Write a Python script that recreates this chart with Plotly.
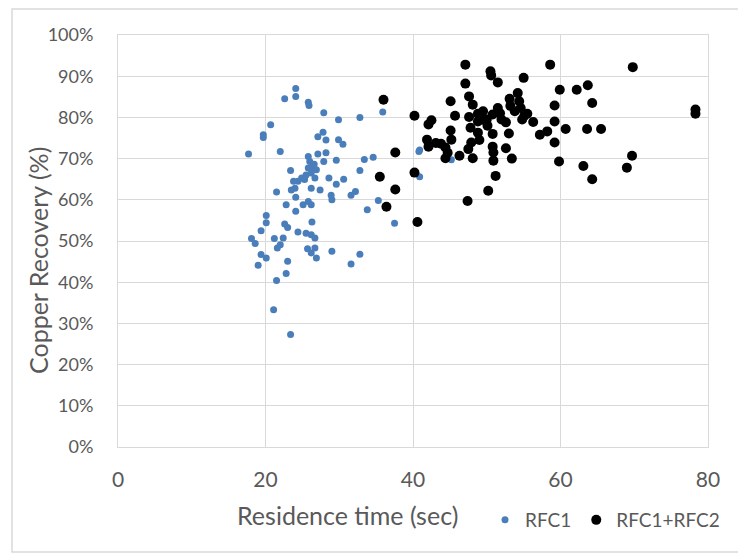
import plotly.graph_objects as go

rfc1_x = [24.1, 24.1, 22.6, 25.8, 25.9, 27.9, 35.9, 32.8, 29.9, 20.7, 19.7, 19.7, 27.8, 27.1, 28.2,
          29.9, 30.5, 17.7, 22.0, 25.8, 27.1, 28.2, 29.6, 33.4, 34.6, 40.8, 26.0, 26.6, 27.9, 23.4,
          25.8, 26.9, 26.2, 32.8, 24.9, 24.4, 25.3, 26.7, 28.6, 30.6, 29.6, 23.8, 24.0, 23.5, 26.2,
          27.4, 32.2, 31.6, 21.5, 24.1, 28.9, 29.0, 25.8, 25.1, 26.2, 22.8, 33.8, 35.3, 24.1, 37.5,
          20.1, 20.1, 22.6, 23.0, 26.3, 19.4, 24.4, 25.5, 26.2, 26.7, 18.1, 18.6, 21.2, 22.0, 22.4,
          21.6, 25.7, 26.7, 29.0, 26.2, 19.4, 20.1, 26.9, 32.8, 19.0, 23.0, 31.6, 22.8, 21.5, 21.1,
          23.4, 40.9, 40.9, 45.2, 26.4, 25.5]
rfc1_y = [87.0, 85.1, 84.5, 83.7, 82.9, 81.1, 81.3, 80.0, 79.4, 78.2, 75.8, 75.1, 76.4, 75.3, 74.5,
          74.6, 73.5, 71.1, 71.7, 70.5, 71.1, 71.4, 69.6, 69.8, 70.3, 71.7, 69.3, 68.6, 69.3, 67.1,
          67.7, 67.3, 66.5, 67.1, 65.3, 64.5, 64.9, 65.3, 65.3, 65.0, 63.8, 64.5, 62.8, 62.4, 62.8,
          62.4, 62.0, 61.1, 61.9, 60.6, 61.1, 60.0, 59.6, 58.8, 58.8, 58.8, 57.6, 59.8, 57.2, 54.3,
          56.2, 54.4, 54.1, 53.3, 54.6, 52.5, 52.2, 51.9, 51.5, 50.7, 50.6, 49.4, 50.6, 49.1, 50.7,
          48.3, 48.1, 48.3, 47.5, 47.1, 46.7, 45.9, 45.9, 46.8, 44.1, 45.1, 44.4, 42.1, 40.4, 33.3,
          27.3, 72.1, 65.6, 69.7, 68.0, 66.0]

rfc12_x = [47.1, 58.6, 69.8, 50.5, 50.6, 55.0, 51.5, 47.1, 59.9, 62.2, 63.7, 36.0, 47.6, 48.1, 45.1,
           54.2, 53.1, 53.2, 54.4, 54.6, 51.5, 59.2, 64.3, 78.3, 78.3, 40.2, 45.7, 47.6, 48.8, 50.8,
           55.1, 55.5, 42.5, 42.1, 48.8, 49.7, 50.1, 52.6, 56.3, 59.2, 45.1, 48.8, 50.8, 53.0, 57.2,
           58.2, 60.7, 63.6, 65.5, 41.9, 45.2, 43.1, 43.8, 47.9, 42.1, 44.4, 59.2, 50.8, 52.6, 47.5,
           44.7, 46.3, 44.4, 48.1, 50.9, 50.9, 53.4, 59.8, 69.7, 37.6, 40.2, 35.5, 63.1, 69.0, 64.3,
           51.2, 37.6, 50.2, 36.4, 47.4, 40.6, 49.5, 50.0, 51.8, 52.0, 47.8, 49.0, 53.8, 54.8]
rfc12_y = [92.8, 92.8, 92.2, 91.2, 90.2, 89.6, 88.5, 88.2, 86.7, 86.7, 87.8, 84.3, 85.1, 83.1, 83.9,
           85.9, 84.5, 82.8, 83.9, 82.3, 82.3, 82.9, 83.5, 81.9, 80.9, 80.4, 80.4, 80.1, 80.9, 80.7,
           80.4, 80.9, 79.3, 78.3, 79.0, 79.3, 78.0, 78.8, 78.9, 79.0, 76.8, 76.3, 76.0, 76.1, 75.8,
           76.6, 77.2, 77.2, 77.2, 74.6, 74.6, 73.8, 73.6, 73.9, 72.9, 72.7, 73.9, 72.9, 72.5, 72.3,
           71.4, 70.7, 70.1, 70.1, 71.5, 69.5, 70.0, 69.3, 70.7, 71.5, 66.6, 65.6, 68.2, 67.8, 65.0,
           65.8, 62.5, 62.2, 58.3, 59.7, 54.6, 81.5, 79.5, 81.0, 79.5, 77.5, 74.5, 81.5, 79.5]

x_ticks = [0, 20, 40, 60, 80]
y_ticks = [0, 10, 20, 30, 40, 50, 60, 70, 80, 90, 100]
y_ticktext = [f"{v}%" for v in y_ticks]

font_family = "Lato, 'Open Sans', sans-serif"
grey = "#595959"

# figure is offset 8px by the page's default body margin
W, H = 738, 546
L, R, T, B = 110, 38, 27, 107
PW, PH = W - L - R, H - T - B


def px_x(v):  # window x -> paper
    return (v - 8 - L) / PW


def px_y(v):  # window y -> paper
    return (H - B - (v - 8)) / PH


fig = go.Figure()
fig.add_trace(go.Scatter(x=rfc1_x, y=rfc1_y, mode="markers", name="RFC1",
                         marker=dict(color="#4a7ebb", size=7)))
fig.add_trace(go.Scatter(x=rfc12_x, y=rfc12_y, mode="markers", name="RFC1+RFC2",
                         marker=dict(color="#000000", size=10)))

fig.update_layout(
    width=W, height=H,
    margin=dict(l=L, r=R, t=T, b=B, autoexpand=False),
    paper_bgcolor="white", plot_bgcolor="white",
    font=dict(family=font_family, color=grey),
    showlegend=True,
    legend=dict(orientation="h", xref="container", yref="container",
                x=(725 - 8) / W, xanchor="right", y=(H - (520 - 8)) / H, yanchor="middle",
                font=dict(size=19, color=grey), itemsizing="trace",
                traceorder="normal", itemwidth=30, bgcolor="rgba(0,0,0,0)"),
    shapes=[dict(type="rect", xref="paper", yref="paper",
                 x0=px_x(12), x1=px_x(739), y0=px_y(552), y1=px_y(9),
                 line=dict(color="#d9d9d9", width=1.5))],
    annotations=[
        dict(text="Residence time (sec)", xref="paper", yref="paper",
             x=px_x(347), y=px_y(515), xanchor="center", yanchor="middle",
             showarrow=False, font=dict(size=25, color=grey)),
        dict(text="Copper Recovery (%)", xref="paper", yref="paper", textangle=-90,
             x=px_x(38), y=px_y(261), xanchor="center", yanchor="middle",
             showarrow=False, font=dict(size=25, color=grey)),
    ],
)
fig.update_xaxes(range=[0, 80], tickvals=x_ticks, showgrid=True, gridcolor="#d9d9d9",
                 showline=True, linecolor="#d9d9d9", mirror=True, zeroline=False,
                 automargin=False,
                 tickfont=dict(size=21, color=grey), ticklabelstandoff=14, ticks="")
fig.update_yaxes(range=[0, 100], tickvals=y_ticks, ticktext=y_ticktext, showgrid=True,
                 gridcolor="#d9d9d9", showline=True, linecolor="#d9d9d9", mirror=True,
                 automargin=False,
                 zeroline=False, tickfont=dict(size=18, color=grey), ticklabelstandoff=20,
                 ticks="")

fig.write_html("out.html")
